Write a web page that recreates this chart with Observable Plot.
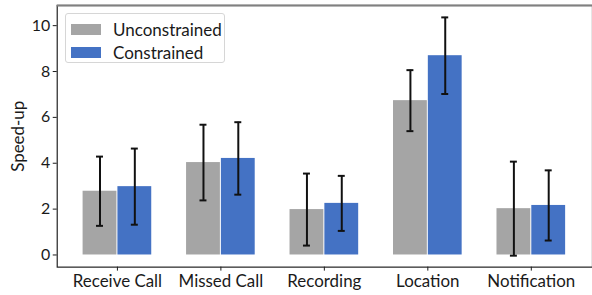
<!DOCTYPE html>
<html><head><meta charset="utf-8">
<script src="https://cdn.jsdelivr.net/npm/d3@7"></script>
<script src="https://cdn.jsdelivr.net/npm/@observablehq/plot@0.6"></script>
<style>
html,body{margin:0;padding:0;background:#fff;overflow:hidden}
#wrap{position:relative;width:592px;height:295px;overflow:hidden;font-family:Lato,sans-serif;color:#1a1a1a}
#legend{position:absolute;left:65px;top:13px;width:160px;height:50px;border:1px solid #d6d6d6;border-radius:3px;background:rgba(255,255,255,0.85);box-sizing:border-box}
.row{position:absolute;left:5px;height:20px;display:flex;align-items:center;font-size:17px;white-space:nowrap}
.sw{width:30px;height:11px;margin-right:12px}
#chart svg [aria-label="y-axis label"]{font-size:17px}
#chart svg [aria-label="x-axis tick label"]{font-size:17px}
</style>
</head><body>
<div id="wrap"><div id="chart"></div><div id="legend"></div></div>
<script>
const categories = ["Receive Call", "Missed Call", "Recording", "Location", "Notification"];
const series = ["Unconstrained", "Constrained"];
const colors = ["#a5a5a5", "#4472c4"];
const unconstrainedMean = [2.78, 4.03, 1.98, 6.73, 2.02];
const unconstrainedErr  = [1.51, 1.65, 1.57, 1.33, 2.05];
const constrainedMean   = [2.98, 4.21, 2.25, 8.69, 2.16];
const constrainedErr    = [1.66, 1.58, 1.20, 1.67, 1.53];
const yTicks = [0, 2, 4, 6, 8, 10];

const rows = [];
categories.forEach((c, i) => {
  rows.push({category: c, series: series[0], mean: unconstrainedMean[i], err: unconstrainedErr[i]});
  rows.push({category: c, series: series[1], mean: constrainedMean[i], err: constrainedErr[i]});
});
const un = rows.filter(d => d.series === series[0]);
const co = rows.filter(d => d.series === series[1]);
const caps = s => s.flatMap(d => [{category: d.category, v: d.mean - d.err}, {category: d.category, v: d.mean + d.err}]);
const yDomain = [-0.53, 10.88];

const chart = Plot.plot({
  width: 595, height: 295,
  marginLeft: 57, marginRight: 0, marginTop: 5, marginBottom: 27,
  style: {fontFamily: "Lato, sans-serif", fontSize: "16px", color: "#1a1a1a", background: "#fff"},
  x: {domain: categories, paddingInner: 1/3, paddingOuter: 0.229, tickSize: 4, tickPadding: 4, label: null},
  y: {domain: yDomain, ticks: yTicks, tickSize: 4, tickPadding: 3, label: "Speed-up", labelAnchor: "center", labelOffset: 45, labelArrow: false},
  marks: [
    Plot.barY(un, {x: "category", y: "mean", fill: colors[0], insetRight: 35}),
    Plot.barY(co, {x: "category", y: "mean", fill: colors[1], insetLeft: 35}),
    Plot.ruleX(un, {x: "category", y1: d => d.mean - d.err, y2: d => d.mean + d.err, dx: -17.5, stroke: "#111", strokeWidth: 2}),
    Plot.ruleX(co, {x: "category", y1: d => d.mean - d.err, y2: d => d.mean + d.err, dx: 17.5, stroke: "#111", strokeWidth: 2}),
    Plot.tickY(caps(un), {x: "category", y: "v", insetLeft: 13.5, insetRight: 48.5, stroke: "#111", strokeWidth: 2}),
    Plot.tickY(caps(co), {x: "category", y: "v", insetLeft: 48.5, insetRight: 13.5, stroke: "#111", strokeWidth: 2}),
    Plot.frame({stroke: "#222", strokeWidth: 1.2}),
    Plot.ruleY([yDomain[1]], {stroke: "#808080", strokeWidth: 2})
  ]
});
document.getElementById("chart").appendChild(chart);

const lg = document.getElementById("legend");
series.forEach((s, i) => {
  const r = document.createElement("div");
  r.className = "row";
  r.style.top = (i === 0 ? 5 : 28) + "px";
  r.innerHTML = `<div class="sw" style="background:${colors[i]}"></div><span>${s}</span>`;
  lg.appendChild(r);
});
</script>
</body></html>
